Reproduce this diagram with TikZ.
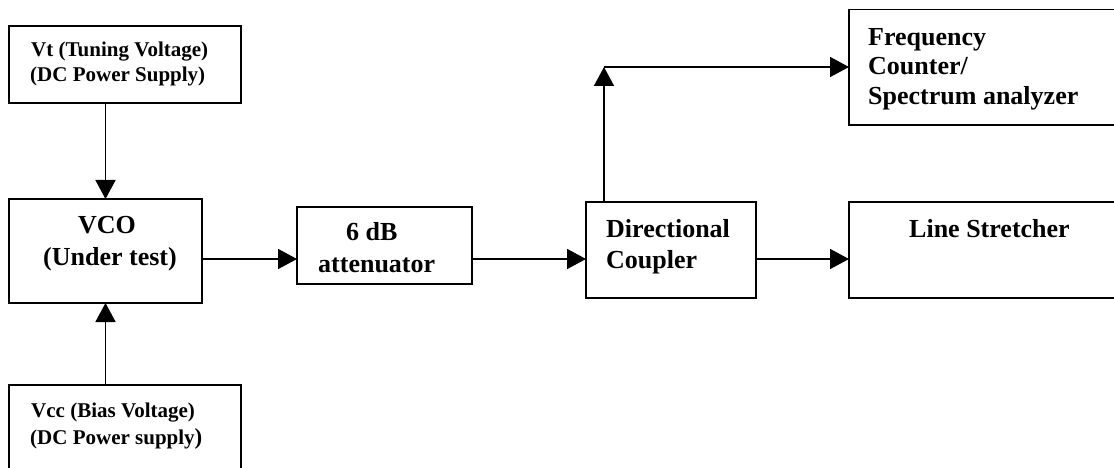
\documentclass[tikz,border=0pt]{standalone}
\usepackage{fontspec}
\setmainfont{Liberation Serif}
\usetikzlibrary{arrows.meta}
\begin{document}
\begin{tikzpicture}[x=1pt,y=-1pt,
  box/.style={draw, line width=1.7pt, inner sep=0pt, outer sep=0pt, anchor=north west},
  arr/.style={line width=1.7pt, -{Triangle[length=19pt,width=20pt]}},
  small/.style={anchor=base west, inner sep=0pt, font=\bfseries\fontsize{21}{25}\selectfont},
  big/.style={anchor=base west, inner sep=0pt, font=\bfseries\fontsize{26}{31}\selectfont}]
\clip (0,0) rectangle (1114,468);
\fill[white] (0,0) rectangle (1114,468);
% boxes
\node[box, minimum width=232pt, minimum height=77pt] (vt) at (9,26) {};
\node[box, minimum width=193pt, minimum height=104pt] (vco) at (9,199) {};
\node[box, minimum width=232pt, minimum height=95pt] (vcc) at (9,385) {};
\node[box, minimum width=175pt, minimum height=77pt] (att) at (297,207) {};
\node[box, minimum width=170pt, minimum height=96pt] (dc) at (586,202) {};
\node[box, minimum width=272pt, minimum height=115.5pt] (fc) at (849,9.5) {};
\node[box, minimum width=272pt, minimum height=96pt] (ls) at (849,202) {};
% texts
\node[small] (t1) at (31,57) {Vt (Tuning Voltage)};
\node[small] (t2) at (30,82) {(DC Power Supply)};
\node[big] (t3) at (78,233) {VCO};
\node[big] (t4) at (43,265) {(Under test)};
\node[small] (t5) at (31,417) {Vcc (Bias Voltage)};
\node[small] (t6) at (30,444) {(DC Power supply{\fontsize{23}{25}\selectfont)}};
\node[big] (t7) at (346,240) {6 dB};
\node[big] (t8) at (318,272) {attenuator};
\node[big] (t9) at (606,237) {Directional};
\node[big] (t10) at (606,268) {Coupler};
\node[big] (t11) at (868,46) {Frequency};
\node[big] (t12) at (868,75) {Counter/};
\node[big] (t13) at (868,105) {Spectrum analyzer};
\node[big] (t14) at (909,237) {Line Stretcher};
% connectors
\coordinate (chain) at (0,259);
\coordinate (corner) at (604,67);
\draw[arr] (vco.north |- vt.south) -- (vco.north);
\draw[arr] (vco.south |- vcc.north) -- (vco.south);
\draw[arr] (vco.east |- chain) -- (att.west |- chain);
\draw[arr] (att.east |- chain) -- (dc.west |- chain);
\draw[arr] (dc.east |- chain) -- (ls.west |- chain);
\draw[arr] (corner |- dc.north) -- (corner);
\draw[arr] (corner) -- (fc.west |- corner);
\end{tikzpicture}
\end{document}
